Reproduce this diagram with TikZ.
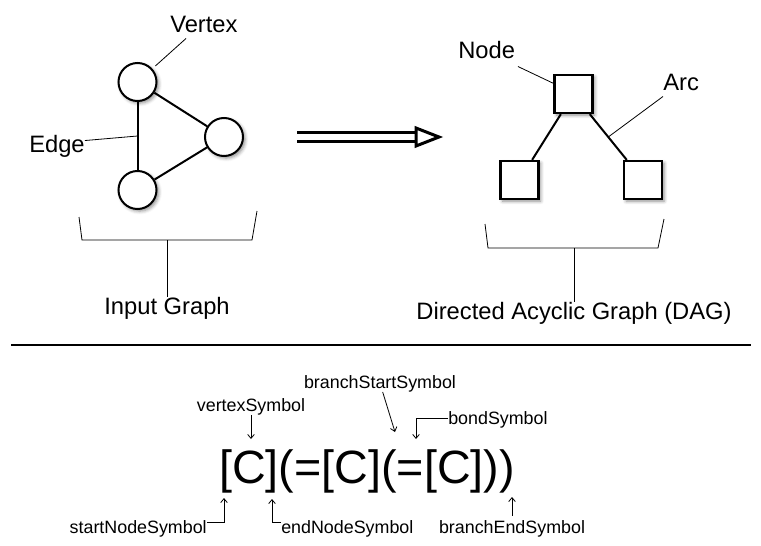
\documentclass[tikz,border=0pt]{standalone}
\usepackage{fontspec}
\setmainfont{Liberation Sans}
\usetikzlibrary{calc,arrows.meta,shadows.blur}

\begin{document}
\begin{tikzpicture}[x=0.75pt,y=-0.75pt]
   \tikzstyle{soft shadow}=[blur shadow={shadow xshift=1.6pt,shadow yshift=-1.6pt,shadow blur radius=2.5pt,shadow opacity=45}]
   \tikzstyle{vertex}=[circle,draw,line width=1.5pt,fill=white,minimum size=28.5pt,inner sep=0pt,soft shadow]
   \tikzstyle{dagnode}=[rectangle,draw,line width=1.7pt,fill=white,minimum size=28.5pt,inner sep=0pt,soft shadow]
   \tikzstyle{link}=[draw,line width=1.5pt]
   \tikzstyle{leader}=[draw,line width=0.6pt]
   \tikzstyle{biglabel}=[font=\fontsize{17.8}{20}\selectfont,inner sep=0pt]
   \tikzstyle{symlabel}=[font=\fontsize{13.4}{15}\selectfont,inner sep=0pt]
   \tikzstyle{symarrow}=[draw,line width=0.6pt,-{Straight Barb[length=3pt,width=5pt]}]
   \useasboundingbox (0,0) rectangle (761,546);
   % input graph
   \node (v1) [vertex] at (137.5,82) {} ;
   \node (v2) [vertex] at (224,137) {} ;
   \node (v3) [vertex] at (137.5,190) {} ;
   \path [link] (v1) -- (v2) ;
   \path [link] (v2) -- (v3) ;
   \path [link] (v1) -- (v3) ;
   \node (vtxlab) [biglabel,anchor=base west] at (170,32) {Vertex} ;
   \node (edglab) [biglabel,anchor=base west] at (29,152) {Edge} ;
   \node (inlab) [biglabel,anchor=base] at (167,314) {Input Graph} ;
   \path [leader,shorten >=3pt] ([xshift=12pt,yshift=-4.5pt]vtxlab.south west) -- (v1) ;
   \path [leader] ([yshift=4pt]edglab.east) -- ($(v1)!.5!(v3)$) ;
   \coordinate (brL) at (167,240) ;
   \path [leader] (79,217) -- (82,240) -- (252,240) -- (257,211) ;
   \path [leader] (inlab.north) -- (brL) ;
   % the arrow
   \coordinate (arrS) at (297,137) ;
   \coordinate (arrE) at (416,137) ;
   \path [draw,line width=2.25pt,double distance=4.9pt] (arrS) -- (arrE) ;
   \path [draw,line width=2.25pt,fill=white,line join=miter] (arrE) ++(0,-9) -- ++(23,9) -- ++(-23,9) -- cycle ;
   % DAG
   \node (d1) [dagnode] at (573.5,94) {} ;
   \node (d2) [dagnode] at (519.5,180) {} ;
   \node (d3) [dagnode] at (643,180) {} ;
   \path [link] (d1) -- (d2) ;
   \path [link] (d1) -- (d3) ;
   \node (ndlab) [biglabel,anchor=base west] at (458,58) {Node} ;
   \node (arclab) [biglabel,anchor=base west] at (663,90) {Arc} ;
   \node (daglab) [biglabel,anchor=base] at (574,319) {Directed Acyclic Graph (DAG)} ;
   \path [leader] ([xshift=2pt,yshift=-6pt]ndlab.south east) -- ([yshift=8pt]d1.west) ;
   \path [leader] ([yshift=-4.5pt]arclab.south west) -- ($(d1)!.5!(d3)$) ;
   \coordinate (brR) at (574,248) ;
   \path [leader] (485,224) -- (488,248) -- (658,248) -- (664,219) ;
   \path [leader] (daglab.north) -- (brR) ;
   % separator
   \draw [line width=1pt] (11,345) -- (751,345) ;
   % string form
   \node (smiles) [font=\fontsize{35}{40}\selectfont,inner sep=0pt,anchor=base west] at (219,483) {[C](=[C](=[C]))} ;
   \node (vsym) [symlabel,anchor=base] at (251,411) {vertexSymbol} ;
   \node (bssym) [symlabel,anchor=base] at (380,388) {branchStartSymbol} ;
   \node (bdsym) [symlabel,anchor=base west] at (448,424) {bondSymbol} ;
   \node (snsym) [symlabel,anchor=base east] at (207,533) {startNodeSymbol} ;
   \node (ensym) [symlabel,anchor=base west] at (281,533) {endNodeSymbol} ;
   \node (besym) [symlabel,anchor=base] at (512,533) {branchEndSymbol} ;
   \coordinate (vtxpt) at (251,439) ;
   \coordinate (bspt) at (395,432) ;
   \coordinate (bdpt) at (416,439) ;
   \coordinate (snpt) at (224,498) ;
   \coordinate (enpt) at (272,499) ;
   \coordinate (bept) at (512,497) ;
   \path [symarrow] (vsym.south) -- (vtxpt) ;
   \path [symarrow] ([xshift=2pt]bssym.south) -- (bspt) ;
   \path [symarrow] ([yshift=1pt]bdsym.west) -| (bdpt) ;
   \path [symarrow] ([yshift=4.5pt]snsym.east) -| (snpt) ;
   \path [symarrow] ([yshift=4.5pt]ensym.west) -| (enpt) ;
   \path [symarrow] ([yshift=3pt]besym.north) -- (bept) ;
\end{tikzpicture}
\end{document}
